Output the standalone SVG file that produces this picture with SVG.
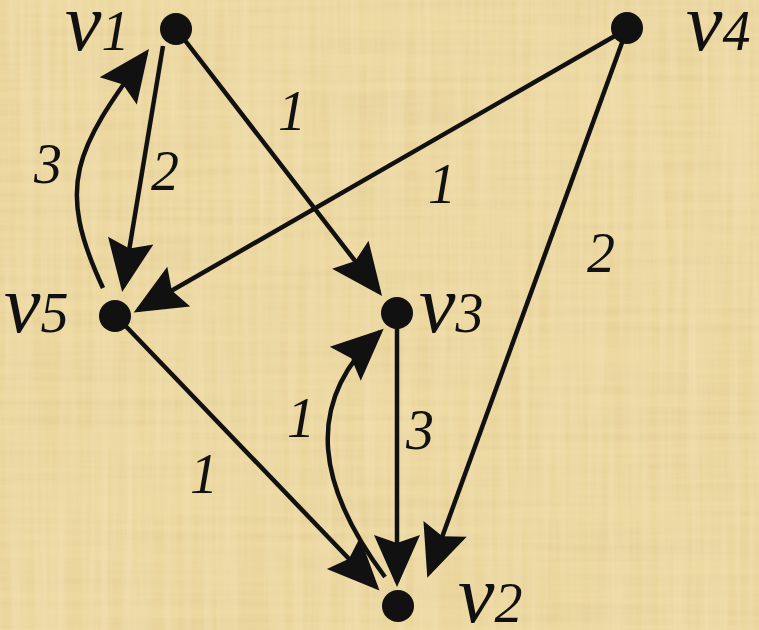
<svg xmlns="http://www.w3.org/2000/svg" width="759" height="630" viewBox="0 0 759 630">
<style>
.edge{fill:none;stroke:#111;stroke-width:4.5;marker-end:url(#arr)}
.node{fill:#111}
.lbl{font-family:"Liberation Serif","Times New Roman",serif;font-style:italic;fill:#111}
.w{font-size:56px;text-anchor:middle}
.v{font-size:82px}
.d{font-size:56px}
</style>
<defs>
<marker id="arr" markerUnits="userSpaceOnUse" markerWidth="54" markerHeight="48" refX="47" refY="23" orient="auto" overflow="visible">
<path d="M52,23 L0,0 L8,23 L0,46 Z" fill="#111"/>
</marker>
<filter id="tex" x="0" y="0" width="100%" height="100%">
<feTurbulence type="fractalNoise" baseFrequency="0.004 0.12" numOctaves="3" seed="4" result="n1"/>
<feColorMatrix in="n1" type="matrix" values="0 0 0 0 0.55  0 0 0 0 0.42  0 0 0 0 0.15  0 0 0 0.9 -0.3" result="c1"/>
<feTurbulence type="fractalNoise" baseFrequency="0.12 0.004" numOctaves="3" seed="9" result="n2"/>
<feColorMatrix in="n2" type="matrix" values="0 0 0 0 1  0 0 0 0 0.97  0 0 0 0 0.85  0 0 0 0.9 -0.3" result="c2"/>
<feMerge><feMergeNode in="c1"/><feMergeNode in="c2"/></feMerge>
</filter>
</defs>
<rect width="759" height="630" fill="#EDD8A0"/>
<rect width="759" height="630" filter="url(#tex)" opacity="0.35"/>
<g id="connectors">
<path class="edge" d="M177,30 L379,292"/>
<path class="edge" d="M163,46 L123,287"/>
<path class="edge" d="M103,288 C55,185 75,150 146,53"/>
<path class="edge" d="M627,29 L138,310"/>
<path class="edge" d="M627,29 L429,573"/>
<path class="edge" d="M116,316 L376,587"/>
<path class="edge" d="M397,313 L397,582"/>
<path class="edge" d="M385,577 C320,490 300,405 380,332"/>
</g>
<g id="edge-labels" class="lbl">
<text class="w" x="292" y="130">1</text>
<text class="w" x="165" y="190">2</text>
<text class="w" x="48" y="183">3</text>
<text class="w" x="442" y="203">1</text>
<text class="w" x="601" y="272">2</text>
<text class="w" x="204" y="493">1</text>
<text class="w" x="301" y="437">1</text>
<text class="w" x="420" y="449">3</text>
</g>
<g id="v1"><circle class="node" cx="176" cy="29" r="16"/><text class="lbl" x="65" y="50"><tspan class="v">v</tspan><tspan class="d">1</tspan></text></g>
<g id="v4"><circle class="node" cx="627" cy="28" r="16"/><text class="lbl" x="686" y="50"><tspan class="v">v</tspan><tspan class="d">4</tspan></text></g>
<g id="v5"><circle class="node" cx="115" cy="316" r="16"/><text class="lbl" x="4" y="332"><tspan class="v">v</tspan><tspan class="d">5</tspan></text></g>
<g id="v3"><circle class="node" cx="397" cy="313" r="16"/><text class="lbl" x="419" y="332"><tspan class="v">v</tspan><tspan class="d">3</tspan></text></g>
<g id="v2"><circle class="node" cx="398" cy="606" r="16"/><text class="lbl" x="458" y="622"><tspan class="v">v</tspan><tspan class="d">2</tspan></text></g>
</svg>
